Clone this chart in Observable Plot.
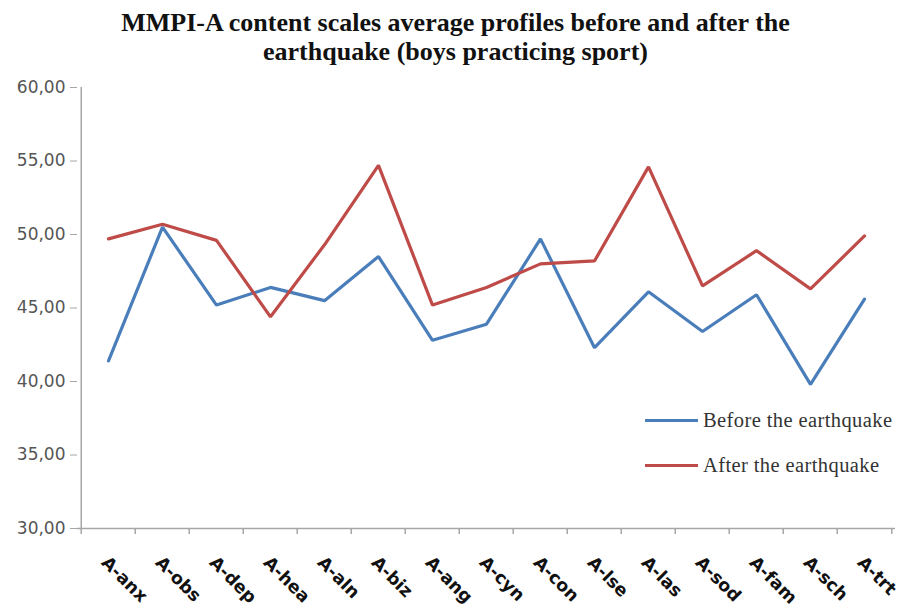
<!DOCTYPE html>
<html>
<head>
<meta charset="utf-8">
<script src="https://cdn.jsdelivr.net/npm/d3@7"></script>
<script src="https://cdn.jsdelivr.net/npm/@observablehq/plot@0.6"></script>
<style>
  html, body { margin: 0; padding: 0; background: #fff; }
  #wrap { position: relative; width: 911px; height: 612px; overflow: hidden; }
  #title {
    height: 75px; box-sizing: border-box; padding-top: 8px;
    text-align: center; font-family: "Liberation Serif", serif; font-weight: bold;
    font-size: 26px; line-height: 29px; color: #111;
  }
  #legend {
    position: absolute; left: 645px; top: 398px;
    font-family: "Liberation Serif", serif; font-size: 20.5px; color: #333;
    letter-spacing: 0.4px;
  }
  #legend .item { display: flex; align-items: center; height: 45px; }
  #legend .swatch { width: 53px; height: 3px; margin-right: 5px; }
</style>
</head>
<body>
<div id="wrap">
  <div id="title">MMPI-A content scales average profiles before and after the<br>earthquake (boys practicing sport)</div>
  <div id="chart"></div>
  <div id="legend"></div>
</div>
<script>
const scales = ["A-anx", "A-obs", "A-dep", "A-hea", "A-aln", "A-biz", "A-ang", "A-cyn",
                "A-con", "A-lse", "A-las", "A-sod", "A-fam", "A-sch", "A-trt"];
const before = [41.4, 50.5, 45.2, 46.4, 45.5, 48.5, 42.8, 43.9, 49.7, 42.3, 46.1, 43.4, 45.9, 39.8, 45.6];
const after  = [49.7, 50.7, 49.6, 44.4, 49.3, 54.7, 45.2, 46.4, 48.0, 48.2, 54.6, 46.5, 48.9, 46.3, 49.9];
const seriesNames = ["Before the earthquake", "After the earthquake"];
const seriesColors = ["#4a7ebb", "#be4b48"];
const yTicks = [30, 35, 40, 45, 50, 55, 60];

const rows = [];
scales.forEach((s, i) => {
  rows.push({scale: s, value: before[i], series: seriesNames[0]});
  rows.push({scale: s, value: after[i], series: seriesNames[1]});
});

const width = 911, height = 537;
const marginLeft = 77, marginRight = 16;
const band = (width - marginLeft - marginRight) / scales.length;
const fmt = d => d.toFixed(2).replace(".", ",");
const axisGray = "#a6a6a6";

const chart = Plot.plot({
  width, height,
  marginTop: 12, marginBottom: 84, marginLeft, marginRight,
  style: {fontFamily: "DejaVu Sans, sans-serif", background: "#fff", overflow: "visible"},
  x: {type: "band", domain: scales, padding: 0, label: null},
  y: {domain: [30, 60], label: null},
  color: {domain: seriesNames, range: seriesColors},
  marks: [
    Plot.axisY({ticks: yTicks, tickFormat: fmt, tickSize: 7, tickPadding: 5, stroke: axisGray,
                fill: "#555", fontSize: 17, label: null}),
    Plot.ruleX(scales.slice(0, 1), {x: d => d, y1: 30, y2: 60, dx: -band / 2, stroke: axisGray, strokeWidth: 1.5}),
    Plot.ruleY([30], {stroke: axisGray, strokeWidth: 1.5}),
    // tick marks at band boundaries
    Plot.ruleX(scales, {x: d => d, y1: 30, y2: 29.6, dx: -band / 2, stroke: axisGray, strokeWidth: 1.5}),
    Plot.ruleX(scales.slice(-1), {x: d => d, y1: 30, y2: 29.6, dx: band / 2, stroke: axisGray, strokeWidth: 1.5}),
    Plot.axisX({tickSize: 0, tickPadding: 31, tickRotate: 45, fontSize: 17.5, fontWeight: "bold",
                dx: -4, fill: "#111", label: null}),
    Plot.line(rows, {x: "scale", y: "value", z: "series", stroke: "series", strokeWidth: 3.2,
                     strokeLinejoin: "miter"})
  ]
});
document.getElementById("chart").appendChild(chart);

const legend = document.getElementById("legend");
seriesNames.forEach((name, i) => {
  const item = document.createElement("div");
  item.className = "item";
  const sw = document.createElement("span");
  sw.className = "swatch";
  sw.style.background = seriesColors[i];
  item.appendChild(sw);
  item.appendChild(document.createTextNode(name));
  legend.appendChild(item);
});
</script>
</body>
</html>
